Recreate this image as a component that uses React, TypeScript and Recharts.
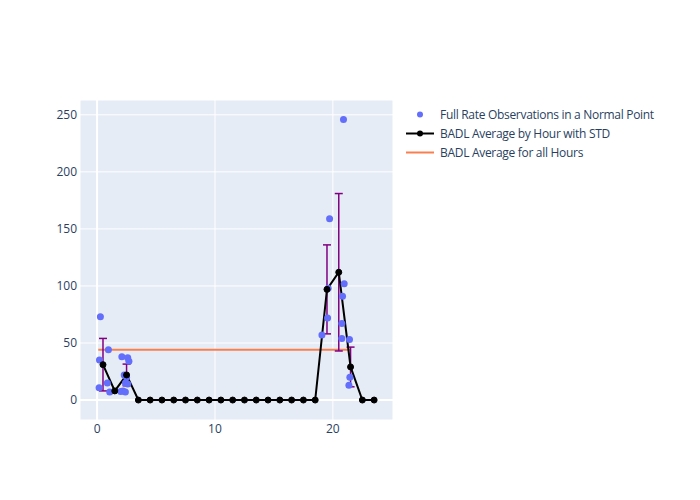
import React from "react";
import {
  ComposedChart,
  Scatter,
  Line,
  XAxis,
  YAxis,
  CartesianGrid,
  ErrorBar,
  ReferenceLine,
} from "recharts";

// observations (hour of day, value)
const obsHour = [
  0.28, 0.96, 0.2, 0.87, 0.17, 1.07, 2.1, 2.6, 2.7, 2.3, 2.5, 2.4, 2.6, 2.2, 2.0, 2.4,
  20.9, 19.72, 19.6, 19.55, 19.07, 20.96, 20.82, 20.76, 20.76, 21.41, 21.44, 21.36,
];
const obsValue = [
  73, 44, 35, 15, 10.8, 7, 38, 37, 34, 22, 20, 15, 14, 8, 7.5, 7,
  246, 159, 98, 72, 57, 102, 91, 67, 54, 53, 20, 13,
];

// hourly averages with standard deviation
const hours = [
  0.5, 1.5, 2.5, 3.5, 4.5, 5.5, 6.5, 7.5, 8.5, 9.5, 10.5, 11.5,
  12.5, 13.5, 14.5, 15.5, 16.5, 17.5, 18.5, 19.5, 20.5, 21.5, 22.5, 23.5,
];
const hourAvg = [
  31, 8, 22, 0, 0, 0, 0, 0, 0, 0, 0, 0,
  0, 0, 0, 0, 0, 0, 0, 97, 112, 29, 0, 0,
];
const hourStd = [
  23, 0, 9.5, 0, 0, 0, 0, 0, 0, 0, 0, 0,
  0, 0, 0, 0, 0, 0, 0, 39, 69, 17.4, 0, 0,
];

// overall average
const avgHours = [0.1, 21.5];
const overallAvg = 44;

const xTicks = [0, 10, 20];
const yTicks = [0, 50, 100, 150, 200, 250];

const obsData = obsHour.map((h, i) => ({ x: h, y: obsValue[i] }));
const hourData = hours.map((h, i) => ({
  x: h,
  avg: hourAvg[i],
  std: hourStd[i] > 0 ? hourStd[i] : undefined,
}));
const avgData = avgHours.map((h) => ({ x: h, all: overallAvg }));

const font = "'Open Sans', 'DejaVu Sans', sans-serif";
const textColor = "#2a3f5f";

function LegendBox() {
  const row = { display: "flex", alignItems: "center", height: 19 } as const;
  return (
    <div
      style={{
        position: "absolute",
        left: 405,
        top: 105,
        fontFamily: font,
        fontSize: 12,
        letterSpacing: "-0.3px",
        color: textColor,
      }}
    >
      <div style={row}>
        <svg width={32} height={19}>
          <circle cx={15} cy={9.5} r={3} fill="#636EFA" />
        </svg>
        <span style={{ marginLeft: 3 }}>Full Rate Observations in a Normal Point</span>
      </div>
      <div style={row}>
        <svg width={32} height={19}>
          <line x1={1} x2={29} y1={9.5} y2={9.5} stroke="#000" strokeWidth={2} />
          <circle cx={15} cy={9.5} r={3} fill="#000" />
        </svg>
        <span style={{ marginLeft: 3 }}>BADL Average by Hour with STD</span>
      </div>
      <div style={row}>
        <svg width={32} height={19}>
          <line x1={1} x2={29} y1={9.5} y2={9.5} stroke="#FA7F4F" strokeWidth={2} />
        </svg>
        <span style={{ marginLeft: 3 }}>BADL Average for all Hours</span>
      </div>
    </div>
  );
}

export default function App() {
  return (
    <div
      style={{
        position: "absolute",
        left: 0,
        top: 0,
        width: 700,
        height: 500,
        background: "#fff",
      }}
    >
      <ComposedChart
        width={700}
        height={500}
        margin={{ top: 100, right: 307, bottom: 0, left: 0 }}
      >
        <CartesianGrid fill="#E5ECF6" stroke="#fff" strokeWidth={1} />
        <XAxis
          type="number"
          dataKey="x"
          domain={[-1.45, 25.1]}
          ticks={xTicks}
          allowDataOverflow
          height={80}
          tickSize={0}
          tickMargin={4}
          axisLine={false}
          tick={{ fontFamily: font, fontSize: 12, fill: textColor }}
        />
        <YAxis
          type="number"
          domain={[-17.5, 263]}
          ticks={yTicks}
          allowDataOverflow
          width={80}
          tickSize={0}
          tickMargin={3}
          axisLine={false}
          tick={{ fontFamily: font, fontSize: 12, fill: textColor }}
        />
        <ReferenceLine y={0} stroke="#fff" strokeWidth={2} />
        <ReferenceLine x={0} stroke="#fff" strokeWidth={2} />
        <Scatter
          data={obsData}
          dataKey="y"
          isAnimationActive={false}
          shape={(p: any) => <circle cx={p.cx} cy={p.cy} r={3.5} fill="#636EFA" />}
        />
        <Line
          data={avgData}
          dataKey="all"
          stroke="#FA7F4F"
          strokeWidth={2}
          dot={false}
          isAnimationActive={false}
        />
        <Line
          data={hourData}
          dataKey="avg"
          stroke="#000"
          strokeWidth={2}
          dot={{ r: 3, fill: "#000", stroke: "#000", strokeWidth: 1 }}
          isAnimationActive={false}
        >
          <ErrorBar dataKey="std" direction="y" width={4} stroke="#800080" strokeWidth={1.5} />
        </Line>
      </ComposedChart>
      <LegendBox />
    </div>
  );
}
